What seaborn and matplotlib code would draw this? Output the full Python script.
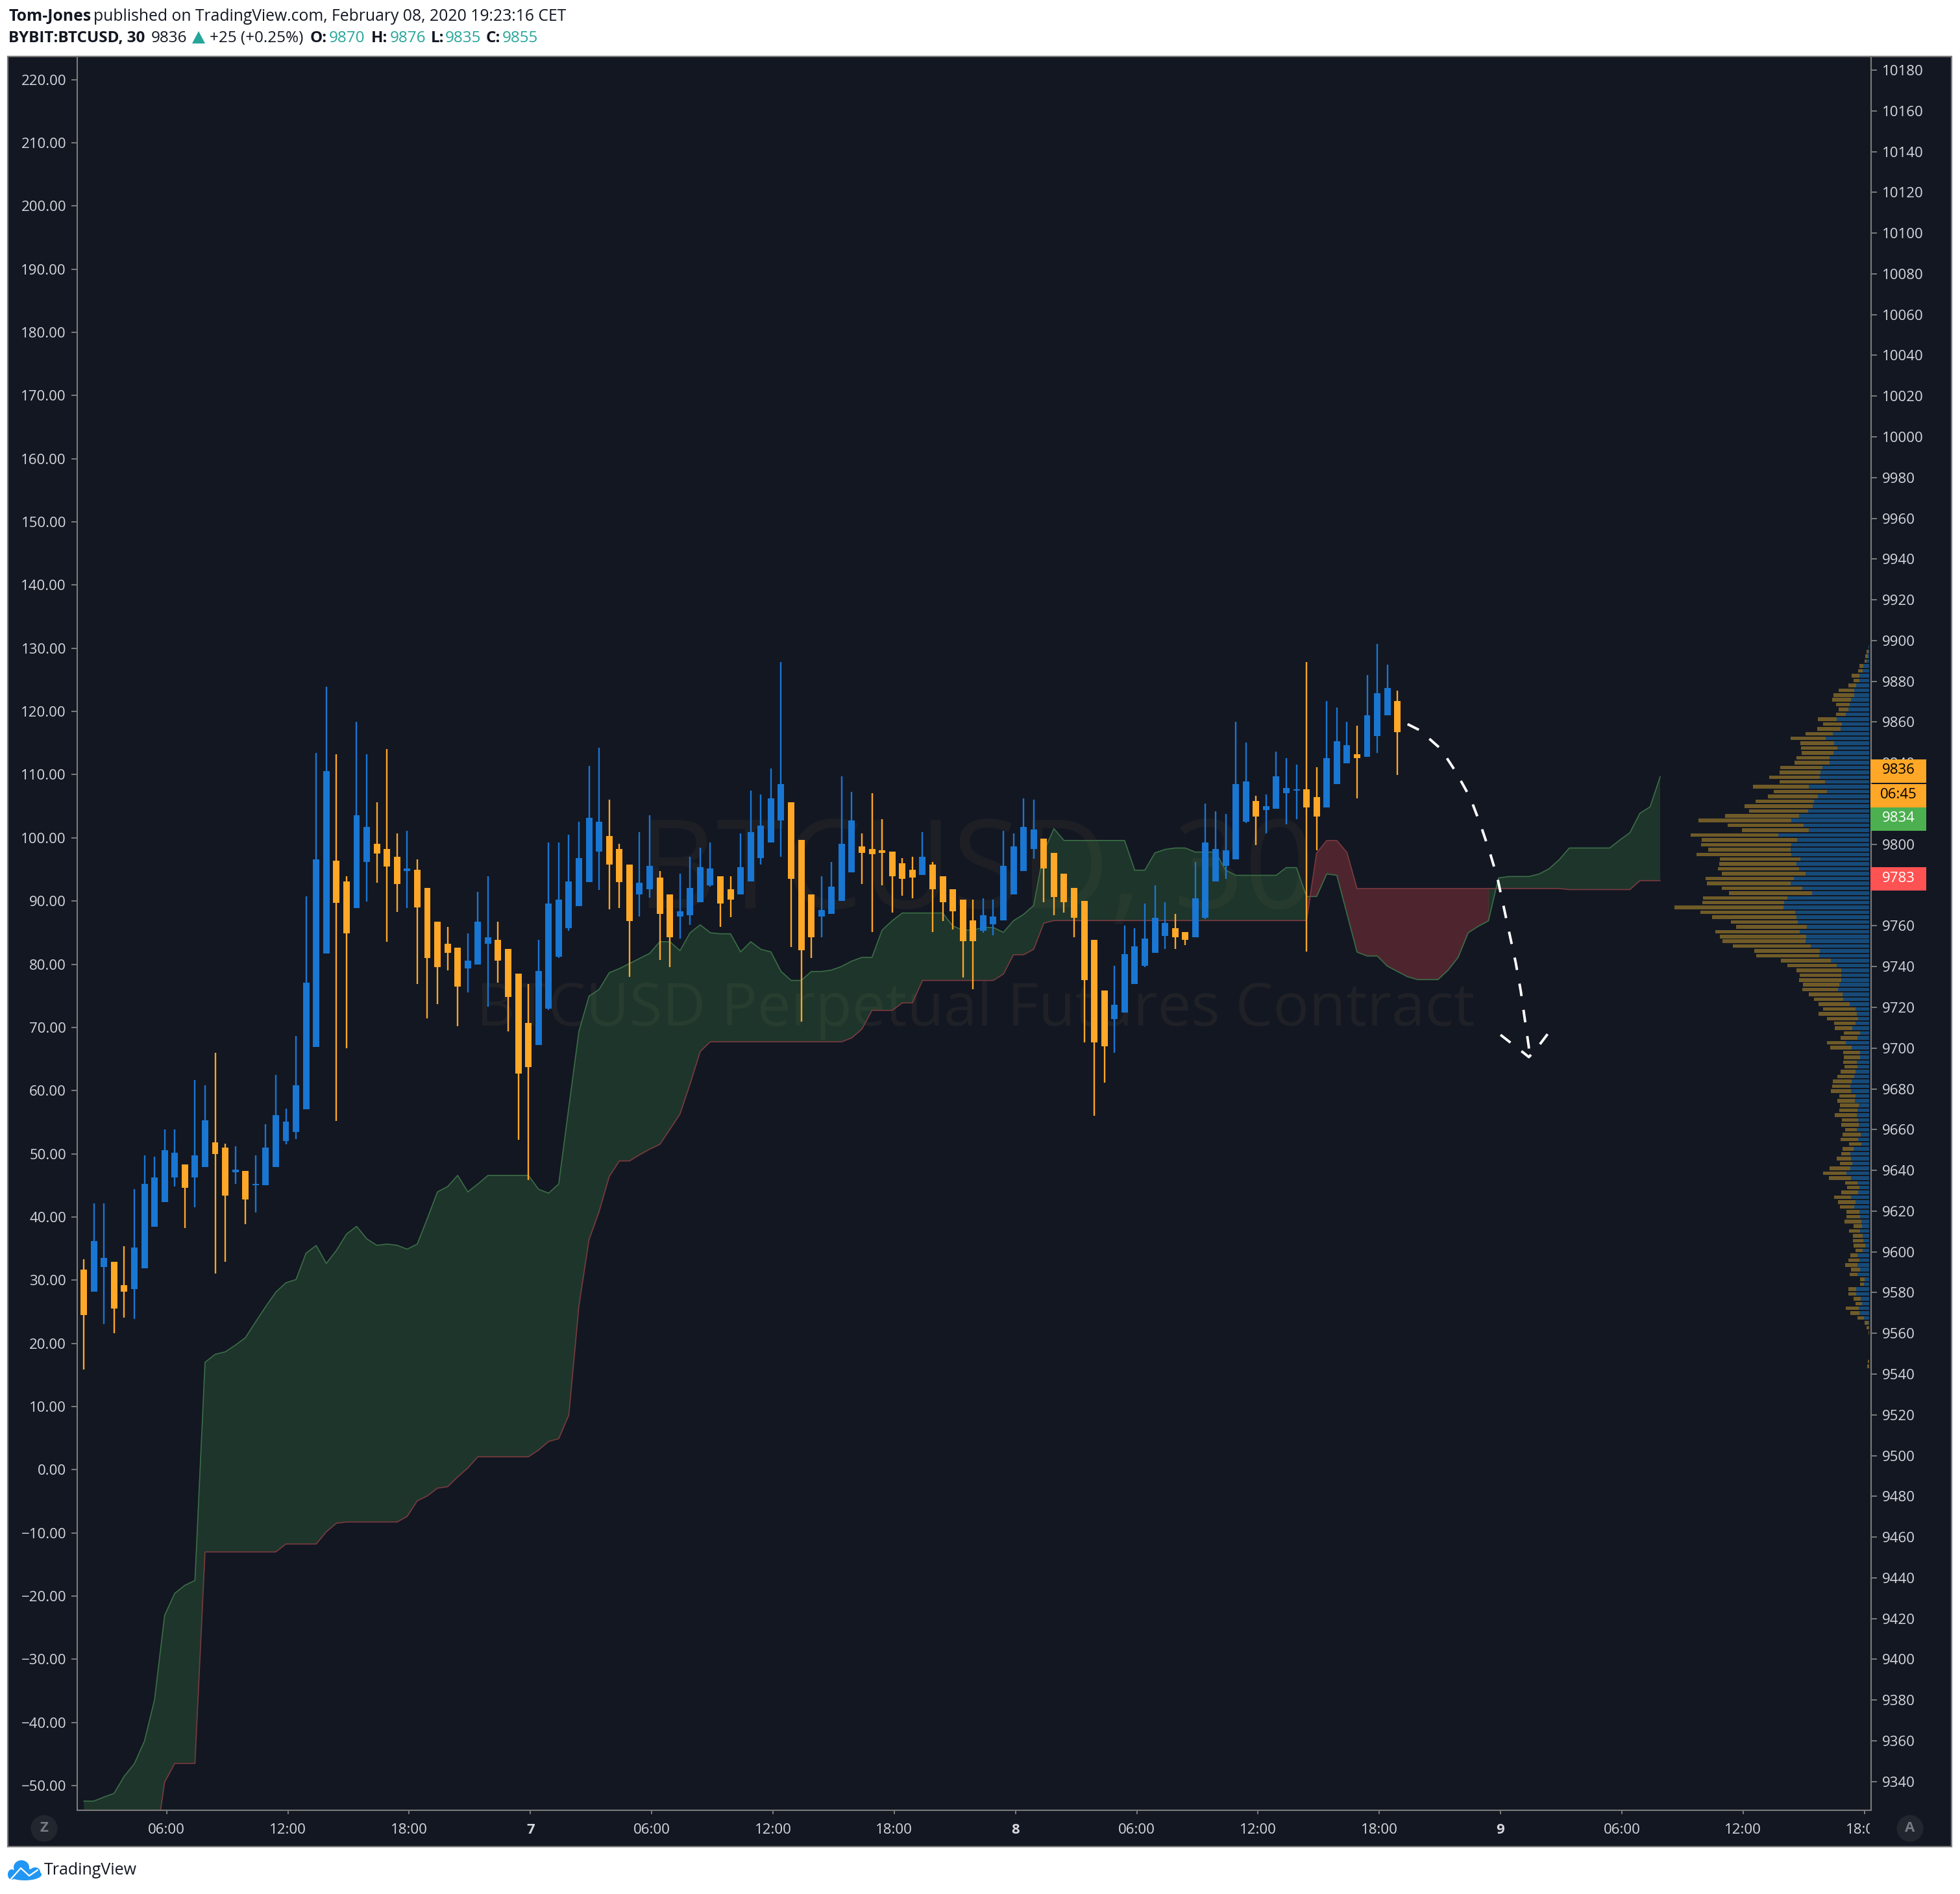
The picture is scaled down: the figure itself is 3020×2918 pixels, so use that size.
import numpy as np
import matplotlib
matplotlib.use("Agg")
import matplotlib.pyplot as plt
from matplotlib.patches import Rectangle, Ellipse, Polygon
from matplotlib.transforms import Affine2D
import seaborn as sns

W, H = 3020, 2918

# candles, price units, bar index = position in list
candle_high = [
    9596.4, 9623.8, 9623.8, 9595.1, 9602.8, 9630.8, 9647.4, 9646.7, 9660.1, 9660.1,
    9642.9, 9684.2, 9681.7, 9697.7, 9653.1, 9651.8, 9639.7, 9647.4, 9662.7, 9686.8,
    9670.4, 9706.0, 9774.3, 9844.9, 9877.3, 9844.2, 9784.3, 9860.2, 9844.2, 9820.8,
    9846.8, 9805.4, 9806.7, 9792.6, 9778.5, 9762.1, 9759.5, 9749.3, 9756.3, 9776.6,
    9784.3, 9762.1, 9748.7, 9736.5, 9731.4, 9753.1, 9800.9, 9800.9, 9804.8, 9811.2,
    9838.5, 9847.5, 9821.9, 9800.3, 9790.0, 9806.0, 9814.4, 9786.8, 9775.4, 9785.6,
    9793.9, 9798.4, 9800.9, 9784.4, 9784.4, 9805.4, 9826.5, 9824.5, 9837.3, 9889.5,
    9820.6, 9802.1, 9775.4, 9784.4, 9791.3, 9833.4, 9825.8, 9805.4, 9825.2, 9812.4,
    9796.5, 9793.3, 9793.9, 9806.0, 9791.3, 9784.4, 9778.0, 9772.8, 9772.8, 9773.6,
    9772.8, 9806.7, 9805.4, 9822.6, 9821.9, 9802.9, 9795.9, 9785.6, 9778.7, 9772.3,
    9753.2, 9728.3, 9740.5, 9760.1, 9758.8, 9771.0, 9780.0, 9771.7, 9765.8, 9756.9,
    9791.4, 9820.1, 9816.2, 9814.9, 9860.1, 9850.0, 9823.8, 9824.5, 9845.5, 9842.4,
    9839.1, 9889.5, 9837.8, 9870.4, 9867.3, 9860.1, 9858.3, 9883.2, 9898.5, 9888.2,
    9875.5,
]
candle_top = [
    9591.3, 9605.3, 9597.0, 9595.1, 9583.7, 9602.1, 9633.3, 9636.5, 9649.9, 9648.6,
    9642.9, 9647.4, 9664.6, 9653.7, 9651.2, 9640.4, 9639.7, 9633.3, 9651.2, 9667.2,
    9664.0, 9681.7, 9732.0, 9792.6, 9835.9, 9792.0, 9781.7, 9814.4, 9808.6, 9800.3,
    9797.7, 9793.9, 9788.1, 9787.5, 9778.5, 9762.1, 9751.2, 9749.3, 9742.9, 9762.1,
    9754.4, 9753.1, 9748.7, 9736.5, 9712.4, 9737.8, 9771.1, 9773.0, 9781.7, 9793.3,
    9813.1, 9811.1, 9804.1, 9797.7, 9790.0, 9781.2, 9789.5, 9783.8, 9775.4, 9767.1,
    9778.7, 9788.8, 9788.2, 9784.4, 9778.0, 9788.8, 9806.0, 9809.3, 9822.6, 9829.6,
    9820.6, 9802.1, 9775.4, 9767.9, 9779.2, 9800.3, 9811.8, 9799.0, 9797.7, 9797.2,
    9796.5, 9790.8, 9787.5, 9793.9, 9790.0, 9784.4, 9778.0, 9772.8, 9762.7, 9765.3,
    9764.6, 9789.5, 9799.0, 9808.5, 9807.3, 9802.9, 9795.9, 9785.6, 9778.7, 9772.3,
    9753.2, 9728.3, 9721.3, 9746.2, 9749.9, 9753.8, 9764.0, 9761.4, 9758.8, 9756.9,
    9773.5, 9801.0, 9797.7, 9797.0, 9829.5, 9830.8, 9821.3, 9818.8, 9833.5, 9827.8,
    9827.1, 9827.1, 9823.2, 9842.4, 9850.7, 9848.7, 9844.2, 9863.4, 9874.3, 9876.7,
    9870.4,
]
candle_bottom = [
    9569.0, 9580.5, 9592.6, 9572.2, 9580.5, 9581.7, 9592.0, 9612.3, 9624.4, 9636.5,
    9631.4, 9636.5, 9641.6, 9648.0, 9627.6, 9639.1, 9625.7, 9632.7, 9632.7, 9641.6,
    9654.4, 9658.9, 9670.0, 9700.5, 9746.3, 9771.3, 9756.3, 9768.7, 9791.5, 9795.4,
    9789.0, 9780.4, 9786.9, 9769.1, 9744.2, 9739.7, 9746.7, 9730.1, 9739.1, 9741.0,
    9751.2, 9742.9, 9725.2, 9687.4, 9690.6, 9701.5, 9719.4, 9744.8, 9758.9, 9769.8,
    9781.4, 9796.6, 9790.2, 9781.4, 9762.2, 9775.4, 9778.0, 9766.0, 9754.4, 9764.6,
    9765.3, 9771.6, 9780.0, 9771.0, 9772.8, 9775.4, 9781.8, 9793.3, 9800.9, 9811.8,
    9783.1, 9748.1, 9754.4, 9764.6, 9765.9, 9772.3, 9786.2, 9795.9, 9795.2, 9795.9,
    9784.4, 9783.1, 9783.8, 9784.9, 9778.0, 9771.7, 9767.1, 9752.5, 9752.5, 9757.6,
    9760.8, 9762.7, 9775.4, 9786.9, 9797.7, 9788.2, 9774.1, 9771.7, 9764.0, 9733.3,
    9702.8, 9700.8, 9714.3, 9717.4, 9731.5, 9740.5, 9746.8, 9755.1, 9754.5, 9753.2,
    9754.5, 9764.0, 9781.8, 9789.4, 9792.6, 9811.2, 9813.6, 9816.9, 9817.5, 9825.2,
    9826.5, 9818.2, 9813.6, 9818.2, 9829.6, 9839.8, 9842.4, 9843.0, 9853.1, 9863.4,
    9855.1,
]
candle_low = [
    9542.2, 9580.5, 9564.5, 9560.1, 9567.7, 9567.1, 9592.0, 9612.3, 9624.4, 9632.1,
    9611.7, 9621.9, 9641.6, 9589.4, 9595.1, 9633.3, 9613.6, 9619.3, 9632.7, 9641.6,
    9652.7, 9655.2, 9670.0, 9700.5, 9746.3, 9664.2, 9699.8, 9768.7, 9771.9, 9781.1,
    9752.1, 9766.8, 9768.7, 9731.6, 9714.5, 9721.6, 9738.0, 9710.7, 9727.3, 9741.0,
    9720.3, 9732.0, 9708.1, 9655.0, 9635.2, 9701.5, 9718.8, 9744.2, 9757.6, 9769.8,
    9781.4, 9777.5, 9768.0, 9768.6, 9734.9, 9764.7, 9773.7, 9743.1, 9739.8, 9753.9,
    9760.3, 9771.6, 9779.2, 9759.5, 9764.2, 9775.4, 9781.8, 9790.0, 9800.9, 9793.9,
    9749.5, 9713.1, 9744.2, 9754.4, 9765.9, 9772.3, 9786.2, 9780.5, 9757.0, 9780.0,
    9766.6, 9774.8, 9773.6, 9784.9, 9757.0, 9762.2, 9758.3, 9734.7, 9729.0, 9756.5,
    9755.2, 9762.7, 9775.4, 9786.9, 9792.8, 9771.7, 9765.3, 9766.6, 9754.5, 9702.8,
    9666.7, 9683.1, 9697.7, 9717.4, 9731.5, 9739.8, 9746.8, 9748.6, 9748.6, 9750.5,
    9754.5, 9763.4, 9781.8, 9783.1, 9792.6, 9810.5, 9799.6, 9805.3, 9817.5, 9809.9,
    9812.3, 9747.5, 9797.0, 9818.2, 9829.6, 9839.8, 9822.6, 9843.0, 9844.8, 9863.4,
    9834.1,
]
candle_dir = (
    "DUUDDUUUUUDUUDDUDUUUUUUUUDDUUDDDUDDDDDUUUDDDDUUUUUUUDDDUUDDUUUUDDUUUUUDDDUUUU"
    "DDDDDDUDDDDDUUUUUUDDDDDDDUUUUUUDDUUUUUUDUUUUDDUUUDUUUD"
)

# ichimoku cloud edges, runs 26 bars past the last candle
span_a = [
    9330.4, 9330.4, 9332.4, 9334.2, 9342.6, 9348.7, 9359.8, 9380.1, 9421.6, 9432.4,
    9436.3, 9438.7, 9545.8, 9549.7, 9550.9, 9554.2, 9557.9, 9565.6, 9573.1, 9580.2,
    9584.8, 9586.4, 9599.4, 9603.1, 9594.3, 9600.7, 9608.7, 9612.5, 9606.4, 9603.2,
    9603.8, 9603.2, 9601.3, 9603.8, 9616.4, 9629.4, 9632.0, 9637.5, 9629.4, 9633.3,
    9637.5, 9637.5, 9637.5, 9637.5, 9637.5, 9630.7, 9628.8, 9633.3, 9671.0, 9708.3,
    9725.5, 9728.8, 9737.0, 9739.0, 9741.5, 9744.0, 9746.5, 9752.2, 9752.2, 9747.8,
    9756.6, 9760.5, 9756.6, 9756.1, 9756.1, 9747.2, 9752.2, 9748.5, 9747.2, 9737.6,
    9733.2, 9733.2, 9737.6, 9737.6, 9738.3, 9740.1, 9742.7, 9744.5, 9744.5, 9757.9,
    9762.5, 9766.3, 9766.3, 9766.3, 9766.3, 9766.3, 9759.9, 9757.9, 9757.9, 9759.2,
    9759.2, 9756.8, 9762.5, 9765.6, 9770.0, 9796.4, 9807.7, 9801.9, 9801.9, 9801.9,
    9801.9, 9801.9, 9801.9, 9801.9, 9787.3, 9787.3, 9795.8, 9797.5, 9798.2, 9798.2,
    9796.2, 9796.2, 9796.2, 9787.3, 9784.8, 9784.8, 9784.8, 9784.8, 9784.8, 9788.6,
    9788.6, 9774.4, 9774.4, 9785.5, 9784.8, 9766.0, 9747.1, 9745.2, 9745.2, 9740.2,
    9737.6, 9735.0, 9733.6, 9733.6, 9733.6, 9738.2, 9744.5, 9756.6, 9759.8, 9762.4,
    9783.5, 9784.2, 9784.2, 9784.2, 9785.4, 9788.0, 9792.4, 9798.2, 9798.2, 9798.2,
    9798.2, 9798.2, 9802.1, 9805.7, 9815.3, 9818.4, 9833.2,
]
span_b = (
    [9280.0, 9280.0, 9280.0, 9285.0, 9290.0, 9295.0, 9300.0, 9305.5, 9339.7, 9348.9, 9348.9, 9348.9]
    + [9452.7] * 8 + [9456.6] * 4 + [9462.6, 9466.8] + [9467.4] * 6
    + [9470.1, 9477.8, 9480.2, 9484.0, 9484.7, 9489.5, 9493.9] + [9499.4] * 6
    + [9502.7, 9506.9, 9508.3, 9519.9, 9573.5, 9606.0, 9619.8, 9637.0, 9644.6, 9644.6,
       9647.6, 9650.4, 9652.7, 9660.1, 9667.6, 9682.4, 9698.3]
    + [9703.1] * 14 + [9705.0, 9709.3] + [9718.5] * 3 + [9722.2] * 2 + [9733.2] * 8
    + [9736.3, 9745.8, 9745.8, 9748.5, 9761.3] + [9762.6] * 26
    + [9795.7, 9801.9, 9801.9, 9796.0] + [9778.3] * 21 + [9777.8] * 7 + [9782.2] * 3
)

# volume profile, top row first
vol_up = [
    4, 4, 7, 12, 26, 30, 45, 45, 60, 69, 69, 84, 90, 96, 108, 150, 126, 132, 168, 201,
    162, 147, 165, 183, 182, 215, 225, 228, 204, 279, 194, 237, 255, 261, 282, 324, 360,
    303, 278, 420, 333, 360, 363, 360, 319, 335, 324, 295, 348, 363, 310, 264, 378, 393,
    397, 342, 336, 329, 288, 322, 291, 294, 270, 228, 231, 177, 150, 130, 129, 129, 138,
    145, 123, 120, 90, 63, 57, 51, 63, 78, 42, 54, 108, 80, 42, 43, 57, 54, 62, 69, 81,
    87, 85, 62, 66, 47, 54, 57, 51, 49, 57, 39, 51, 36, 72, 87, 84, 78, 87, 104, 84, 54,
    45, 51, 83, 62, 69, 45, 42, 36, 33, 42, 30, 27, 18, 30, 55, 45, 54, 42, 54, 21, 25,
    61, 61, 40, 33, 48, 45, 24, 2, 0, 0, 0, 0, 0, 0, 0, 0, 0,
]
vol_down = [
    0, 9, 12, 9, 19, 21, 37, 26, 36, 73, 96, 87, 63, 45, 44, 87, 86, 109, 127, 162,
    156, 167, 147, 154, 162, 195, 188, 234, 210, 259, 247, 230, 270, 314, 273, 342, 429,
    350, 311, 405, 441, 418, 381, 438, 371, 358, 376, 387, 409, 387, 370, 384, 389, 377,
    503, 438, 389, 311, 327, 390, 399, 384, 360, 303, 291, 230, 228, 205, 191, 195, 168,
    164, 157, 135, 144, 150, 176, 143, 100, 81, 76, 77, 87, 99, 77, 73, 63, 59, 70, 77,
    87, 84, 91, 75, 81, 87, 83, 101, 75, 79, 53, 83, 81, 56, 51, 41, 66, 57, 96, 109,
    102, 56, 57, 78, 78, 82, 66, 59, 62, 77, 39, 52, 46, 47, 53, 34, 32, 51, 56, 42, 36,
    21, 17, 35, 34, 32, 30, 60, 41, 29, 19, 12, 4, 0, 0, 0, 0, 0, 5, 10,
]

# hand drawn forecast line
brush_x = [131.0, 132.2, 134.3, 135.8, 137.2, 138.2, 139.1, 139.9, 140.5, 141.1, 141.7, 142.2, 142.6, 143.0, 143.0]
brush_y = [9859.0, 9856.0, 9846.8, 9835.4, 9822.9, 9809.9, 9796.7, 9783.4, 9769.6, 9755.8, 9742.0, 9728.1, 9714.3, 9700.5, 9695.6]
arrow_x = [140.2, 142.5, 143.0, 143.6, 145.3]
arrow_y = [9706.5, 9697.6, 9695.6, 9698.6, 9709.8]

# axis labels
left_ticks = list(range(220, -60, -10))
right_ticks = list(range(10180, 9320, -20))
time_ticks = [8.2, 20.2, 32.2, 44.2, 56.2, 68.2, 80.2, 92.2, 104.2, 116.2, 128.2, 140.2, 152.2, 164.2, 176.2]
time_labels = ["06:00", "12:00", "18:00", "7", "06:00", "12:00", "18:00", "8",
               "06:00", "12:00", "18:00", "9", "06:00", "12:00", "18:00"]

BG = "#131722"
GREY = "#7b7b7b"
LABEL = "#d6d8de"
BLUE = "#1976d2"
ORANGE = "#ffa726"
TEAL = "#26a69a"

assert len(candle_dir) == len(candle_high)

sns.set_theme(style="dark", rc={"axes.facecolor": BG, "figure.facecolor": "white", "savefig.facecolor": "white"})
plt.rcParams["font.family"] = ["Open Sans", "DejaVu Sans"]

fig = plt.figure(figsize=(W / 100, H / 100), dpi=100)
# pixel coordinates with origin top left, for the page furniture
PX = Affine2D().scale(1 / W, -1 / H).translate(0, 1) + fig.transFigure

fig.add_artist(Rectangle((12, 87), 2995, 2758, transform=PX, facecolor=BG, edgecolor=GREY, linewidth=1.6, zorder=0))

L, R, T, B = 119, 2883, 87, 2789
ax = fig.add_axes([L / W, 1 - B / H, (R - L) / W, (B - T) / H], zorder=1)
ax.set_xlim(-0.649, 176.87)
ax.set_ylim(9325.9, 10186.7)

# watermark
ax.text(1503, 1350, "BTCUSD, 30", transform=PX, fontsize=137, color="#1d1f25", ha="center", va="center", zorder=0.5)
ax.text(1503, 1556, "BTCUSD Perpetual Futures Contract", transform=PX, fontsize=66.4, color="#1f2127", ha="center", va="center", zorder=0.5)

# cloud
bars = np.arange(len(span_a))
a = np.array(span_a)
b = np.array(span_b)
ax.fill_between(bars, a, b, where=(bars <= 121) | (bars >= 139), color="#4caf50", alpha=0.2, linewidth=0, zorder=1)
ax.fill_between(bars, a, b, where=(bars >= 121) & (bars <= 139), color="#ff5252", alpha=0.25, linewidth=0, zorder=1)
sns.lineplot(x=bars, y=a, ax=ax, color="#3b6e47", linewidth=1.2, sort=False, estimator=None, zorder=2)
sns.lineplot(x=bars, y=b, ax=ax, color="#7a3b3f", linewidth=1.2, sort=False, estimator=None, zorder=2)

# candles
x = np.arange(len(candle_high))
colors = [BLUE if d == "U" else ORANGE for d in candle_dir]
ax.vlines(x, candle_low, candle_high, colors=colors, linewidth=1.7, zorder=3)
ax.bar(x, np.array(candle_top) - np.array(candle_bottom), bottom=candle_bottom, width=0.64, color=colors, linewidth=0, zorder=4)

# forecast
dash = (0, (5, 5.5))
sns.lineplot(x=brush_x, y=brush_y, ax=ax, color="white", linewidth=2.8, linestyle=dash, sort=False, estimator=None, zorder=5)
sns.lineplot(x=arrow_x, y=arrow_y, ax=ax, color="white", linewidth=2.8, linestyle=dash, sort=False, estimator=None, zorder=5)

# volume profile on its own horizontal scale, 3 units per pixel from the right edge
vol_ax = ax.twiny()
vol_ax.set_xlim(8283, -9)
rows = np.linspace(9897.0, 9543.8, len(vol_up))
vol_ax.barh(rows, vol_up, height=1.75, color="#164b79", linewidth=0)
vol_ax.barh(rows, vol_down, left=vol_up, height=1.75, color="#705b28", linewidth=0)
vol_ax.xaxis.set_visible(False)

left_ax = ax.twinx()
left_ax.set_ylim(-53.91, 223.67)
ax.set_ylim(9325.9, 10186.7)

# axes, after the twins because twinx moves the price ticks
ax.yaxis.tick_right()
ax.set_yticks(right_ticks)
ax.set_yticklabels([str(t) for t in right_ticks])
ax.set_xticks(time_ticks)
ax.set_xticklabels(time_labels)
ax.tick_params(axis="y", length=6.2, width=1.4, color=GREY, labelcolor=LABEL, labelsize=16, pad=6, right=True, left=False, labelright=True, labelleft=False)
ax.tick_params(axis="x", length=4.5, width=1.4, color=GREY, labelcolor=LABEL, labelsize=16, pad=10, bottom=True)
ax.set_xlabel("")
ax.set_ylabel("")
for s in ax.spines.values():
    s.set_color(GREY)
    s.set_linewidth(1.5)
    s.set_visible(True)
for s in vol_ax.spines.values():
    s.set_visible(False)

left_ax.yaxis.tick_left()
left_ax.set_yticks(left_ticks)
left_ax.set_yticklabels([f"{t:.2f}".replace("-", "\u2212") for t in left_ticks])
left_ax.tick_params(axis="y", length=6.2, width=1.4, color=GREY, labelcolor=LABEL, labelsize=16, pad=6, left=True, right=False, labelleft=True, labelright=False)
left_ax.grid(False)
ax.grid(False)
vol_ax.grid(False)
for s in left_ax.spines.values():
    s.set_visible(False)

# day labels are bold, last label is cut by the price axis
clip = Rectangle((0, 0), 2881, H, transform=PX)
for lbl, txt in zip(ax.get_xticklabels(), time_labels):
    if len(txt) == 1:
        lbl.set_fontweight("bold")
    lbl.set_clip_on(True)
    lbl.set_clip_path(clip)

# price tags over the right axis
tag_prices = [9836.0, 9823.9, 9812.4, 9783.0]
tag_texts = ["9836", "06:45", "9834", "9783"]
tag_colors = [ORANGE, ORANGE, "#4caf50", "#ff5252"]
tag_ink = ["#000000", "#000000", "#ffffff", "#ffffff"]
for price, txt, col, ink in zip(tag_prices, tag_texts, tag_colors, tag_ink):
    y = H - ax.transData.transform((0, price))[1]
    fig.add_artist(Rectangle((2882, y - 18), 86, 36, transform=PX, facecolor=col, edgecolor="none", zorder=5))
    fig.text(2925, y - 1, txt, transform=PX, color=ink, fontsize=16, ha="center", va="center", zorder=6)

# header
fig.text(13, 25, "Tom-Jones", transform=PX, fontsize=17.8, fontweight="bold", color="#131722", va="center")
fig.text(144, 25, "published on TradingView.com, February 08, 2020 19:23:16 CET", transform=PX, fontsize=17.8, color="#131722", va="center")
pieces = [
    (13, "BYBIT:BTCUSD, 30", "bold", "#131722"), (233, "9836", "normal", "#131722"),
    (323, "+25 (+0.25%)", "normal", "#131722"), (478, "O:", "bold", "#131722"),
    (507, "9870", "normal", TEAL), (572, "H:", "bold", "#131722"), (601, "9876", "normal", TEAL),
    (664, "L:", "bold", "#131722"), (686, "9835", "normal", TEAL), (749, "C:", "bold", "#131722"),
    (774, "9855", "normal", TEAL),
]
for px, txt, weight, col in pieces:
    fig.text(px, 59, txt, transform=PX, fontsize=17.5, fontweight=weight, color=col, va="center")
fig.add_artist(Polygon([[296, 67], [306, 48], [316, 67]], transform=PX, facecolor=TEAL, edgecolor="none"))

# auto and zoom badges
for cx, letter in [(68, "Z"), (2943, "A")]:
    fig.add_artist(Ellipse((cx, 2817), 41, 41, transform=PX, facecolor="#22262f", edgecolor="none", zorder=3))
    fig.text(cx, 2816, letter, transform=PX, fontsize=16, fontweight="bold", color="#787b86", ha="center", va="center", zorder=4)

# logo
for cx, cy, w, h in [(38, 2888, 52, 18), (33, 2877, 24, 22), (18, 2888, 12, 16), (54, 2884, 16, 14)]:
    fig.add_artist(Ellipse((cx, cy), w, h, transform=PX, facecolor="#2196f3", edgecolor="none"))
fig.add_artist(plt.Line2D([16, 32, 45, 58], [2896, 2878, 2890, 2881], transform=PX, color="white", linewidth=1.6))
fig.text(68, 2881, "TradingView", transform=PX, fontsize=18, color="#131722", va="center")

fig.savefig("out.png", dpi=100)
